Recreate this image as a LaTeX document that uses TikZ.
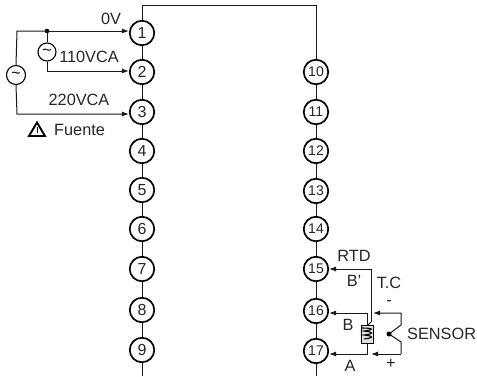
\documentclass[tikz,border=0pt]{standalone}
\usepackage{fontspec}
\setmainfont{Liberation Sans}
\usetikzlibrary{arrows.meta}
\begin{document}
\begin{tikzpicture}[x=1pt,y=-1pt,
  term/.style={circle,draw=black,line width=1.7pt,fill=white,minimum size=24.5pt,inner sep=0pt,font=\fontsize{16}{16}\selectfont,text=black!85},
  src/.style={circle,draw=black,line width=1.1pt,fill=white,inner sep=0pt,font=\fontsize{16}{16}\selectfont},
  lbl/.style={inner sep=0pt,font=\fontsize{16.3}{17}\selectfont,text=black!85},
  wire/.style={draw=black!90,line width=1pt},
  arr/.style={wire,-{Latex[length=7pt,width=5pt]}}]
\useasboundingbox (0,0) rectangle (477,376);
\coordinate (topl) at (142,5);
\coordinate (topr) at (316,5);
\coordinate (botl) at (142,376);
\coordinate (botr) at (316,376);
\draw[wire] (botl) -- (topl) -- (topr) -- (botr);
\foreach \n/\y in {1/33,2/72,3/112,4/151,5/190,6/229,7/269,8/310,9/350}
  \node[term] (t\n) at (142,\y) {\n};
\foreach \n/\y in {10/72,11/112,12/151,13/191,14/229,15/269,16/311,17/351}
  \node[term,font=\fontsize{14}{14}\selectfont] (t\n) at (316,\y) {\n};
% sources
\node[src,minimum size=19pt] (s220) at (16,75) {\char"007E};
\node[src,minimum size=18pt] (s110) at (47,52) {\char"007E};
\coordinate (j) at (47,31);
\coordinate (c1) at (17,31);
\coordinate (c2) at (17,114);
\coordinate (c3) at (47,71);
\fill (j) circle (2.3pt);
\draw[wire] (s220.north) -- (c1) -- (j);
\draw[arr] (j) -- (t1.west |- j);
\draw[wire] (j) -- (s110.north);
\draw[arr] (s110.south) -- (c3) -- (t2.west |- c3);
\draw[arr] (s220.south) -- (c2) -- (t3.west |- c2);
\node[lbl] (l0v) at (111,19) {0V};
\node[lbl] (l110) at (89,57) {110VCA};
\node[lbl] (l220) at (79,100) {220VCA};
\node[lbl,anchor=west] (lf) at (54,130) {Fuente};
\coordinate (w1) at (37,122.5); \coordinate (w2) at (29,136); \coordinate (w3) at (45,136);
\draw[line width=1.9pt,line join=miter] (w1) -- (w2) -- (w3) -- cycle;
\draw[line width=1pt] (37,127) -- (37,133);
% RTD
\node[draw=black,line width=1pt,fill=black!12,minimum width=12pt,minimum height=18pt,inner sep=0pt] (res) at (367.5,334) {};
\coordinate (b1) at (371,269);
\coordinate (b2) at (371,322);
\coordinate (a1) at (367,313);
\coordinate (a2) at (367,354);
\draw[arr] (b2) -- (b1) -- (t15.east |- b1);
\draw[wire] (b2) -- (368,325);
\draw[arr] (res.north -| a1) -- (a1) -- (t16.east |- a1);
\draw[arr] (res.south -| a2) -- (a2) -- (t17.east |- a2);
\draw[line width=1.1pt] (362,328) .. controls (374,328) and (374,330) .. (364,331) .. controls (374,332) and (374,334) .. (364,335) .. controls (374,336) and (374,338) .. (364,339);
% thermocouple
\coordinate (tc1) at (373,313);
\coordinate (tc2) at (401,313);
\coordinate (tc3) at (401,325);
\coordinate (tcj) at (389,334);
\coordinate (tc4) at (401,342);
\coordinate (tc5) at (401,354);
\coordinate (tc6) at (371,354);
\draw[wire,{Latex[length=7pt,width=5pt]}-] (tc1) -- (tc2) -- (tc3) -- (tcj) -- (tc4) -- (tc5);
\draw[arr] (tc5) -- (tc6);
\fill (tcj) circle (2.5pt);
\node[lbl] (lrtd) at (354,256) {RTD};
\node[lbl] (lb1) at (354,281) {B'};
\node[lbl] (ltc) at (389,283) {T.C};
\node[lbl] (lm) at (389,303) {-};
\node[lbl] (lb) at (348,325) {B};
\node[lbl] (la) at (350,366) {A};
\node[lbl] (lp) at (391,364) {+};
\node[lbl,anchor=west] (ls) at (407,334) {SENSOR};
\end{tikzpicture}
\end{document}
